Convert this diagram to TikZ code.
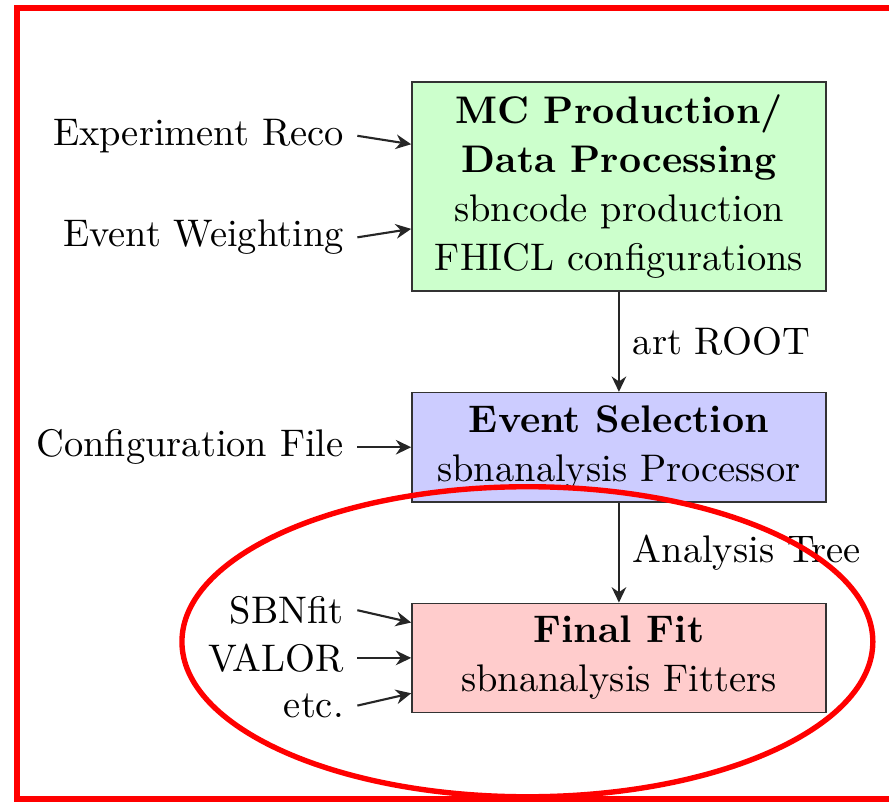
\documentclass[tikz,border=0pt]{standalone}
\usepackage{amsmath}
\usepackage{tikz}
\usetikzlibrary{arrows.meta,positioning}

\begin{document}
\begin{tikzpicture}[node distance=26pt,
  stage/.style={draw=black!80, minimum width=107.6pt, align=center, font=\fontsize{10pt}{12.7pt}\selectfont},
  flow/.style={-{Stealth[length=4pt,width=3.8pt]}, draw=black!85, line width=0.55pt},
  marker/.style={red, line width=1.5pt}]
 \useasboundingbox (-160.9pt,-160.3pt) rectangle (70.2pt,48.5pt);

 % Main chain - processing stages
 \node[stage, fill=green!20] (mcprod) {\textbf{MC Production/}\\ \textbf{Data Processing}\\ sbncode production\\ FHICL configurations};
 \node[stage, fill=blue!20, below=of mcprod] (evsel) {\textbf{Event Selection}\\ sbnanalysis Processor};
 \node[stage, fill=red!20, below=of evsel] (finalfit) {\textbf{Final Fit}\\ sbnanalysis Fitters};

 % Inputs on the left
 \node[left=14pt of mcprod.west, yshift=13.2pt] (reco) {Experiment Reco};
 \node[left=14pt of mcprod.west, yshift=-13.2pt] (weight) {Event Weighting};
 \node[left=14pt of evsel.west] (config) {Configuration File};
 \node[left=14pt of finalfit.west, yshift=12.4pt] (sbnfit) {SBNfit};
 \node[left=14pt of finalfit.west] (valor) {VALOR};
 \node[left=14pt of finalfit.west, yshift=-12.4pt] (others) {etc.};

 % Arrows into the stages
 \draw[flow] (reco.east) -- ([yshift=11pt]mcprod.west);
 \draw[flow] (weight.east) -- ([yshift=-11pt]mcprod.west);
 \draw[flow] (config.east) -- (evsel.west);
 \draw[flow] (sbnfit.east) -- ([yshift=9.2pt]finalfit.west);
 \draw[flow] (valor.east) -- (finalfit.west);
 \draw[flow] (others.east) -- ([yshift=-9.2pt]finalfit.west);

 % Data passed between stages
 \draw[flow] (mcprod) -- (evsel) node[midway, right] {art ROOT};
 \draw[flow] (evsel) -- (finalfit) node[midway, right] {Analysis Tree};

 % Highlight
 \draw[marker] (-156.5pt,-159.2pt) rectangle (76pt,46.4pt);
 \draw[marker, line width=1.4pt] ([shift={(-23.8pt,4.2pt)}]finalfit.center) ellipse [x radius=89.8pt, y radius=40.3pt];
\end{tikzpicture}
\end{document}
